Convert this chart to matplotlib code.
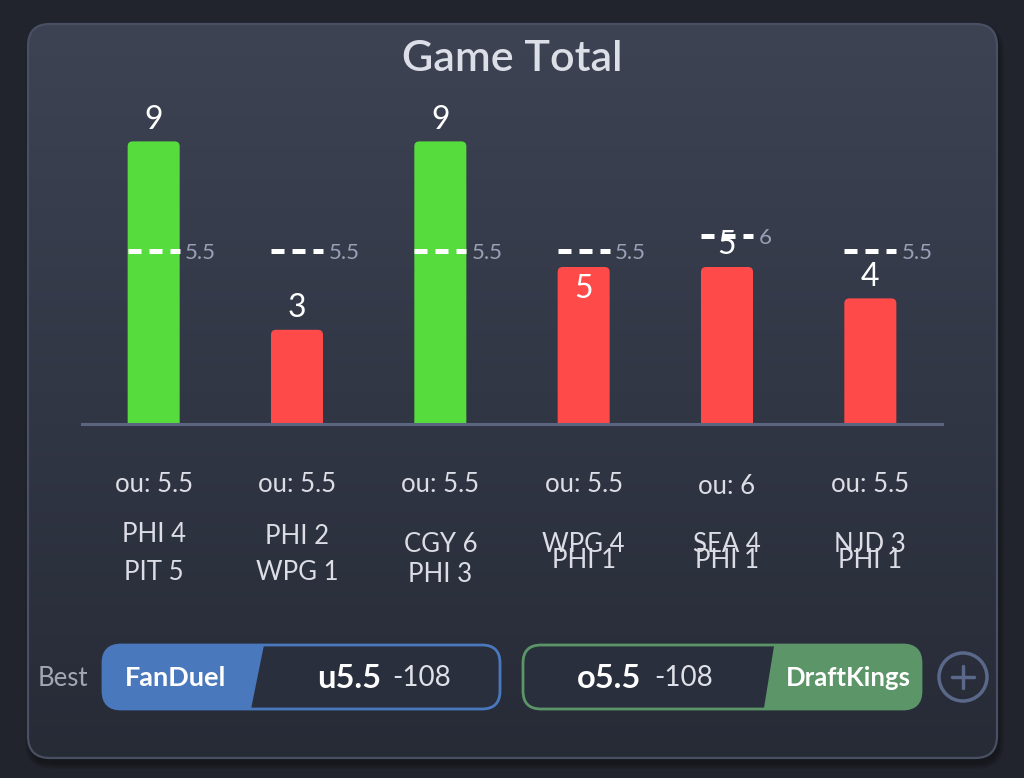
import numpy as np
import matplotlib
matplotlib.use("Agg")
import matplotlib.pyplot as plt
from matplotlib.patches import FancyBboxPatch, Polygon, Circle
from matplotlib.colors import LinearSegmentedColormap

plt.rcParams['font.family'] = ['Lato', 'DejaVu Sans']

# chart values
totals = [9, 3, 9, 5, 5, 4]
ou_lines = [5.5, 5.5, 5.5, 5.5, 6, 5.5]
ou_labels = ["ou: 5.5", "ou: 5.5", "ou: 5.5", "ou: 5.5", "ou: 6", "ou: 5.5"]
home_teams = ["PHI 4", "PHI 2", "CGY 6", "WPG 4", "SEA 4", "NJD 3"]
away_teams = ["PIT 5", "WPG 1", "PHI 3", "PHI 1", "PHI 1", "PHI 1"]
under_book, under_line, under_odds = "FanDuel", "u5.5", "-108"
over_book, over_line, over_odds = "DraftKings", "o5.5", "-108"

# styling
GREEN = '#56dc3d'
RED = '#ff4a4a'
label_inside = [False, False, False, True, False, False]
# the app draws the last three team pairs on top of each other, keep that
team_offsets_px = [(111, 149), (112, 149), (120, 150), (120, 137), (120, 137), (120, 137)]
ou_offsets_px = [60, 60, 60, 60, 63, 60]
PX = 0.72  # points per pixel at dpi 100

W, H = 1024, 778
fig = plt.figure(figsize=(W / 100, H / 100), dpi=100)
fig.patch.set_facecolor('#21242d')

bg = fig.add_axes([0, 0, 1, 1])
bg.set_xlim(0, W)
bg.set_ylim(H, 0)
bg.axis('off')

# card shadow
for k in range(6):
    bg.add_patch(FancyBboxPatch((28 - k + 2, 24 - k + 6), 969 + 2 * k, 734 + 2 * k,
                                boxstyle="round,pad=0,rounding_size=%d" % (22 + k),
                                fc='black', ec='none', alpha=0.06, zorder=0))

card = FancyBboxPatch((28, 24), 969, 734, boxstyle="round,pad=0,rounding_size=22",
                      fc='none', ec='#4a5063', lw=1.6, zorder=3)
bg.add_patch(card)
cmap = LinearSegmentedColormap.from_list('card', ['#3d4353', '#323746', '#272b36'])
grad = np.linspace(0, 1, 256).reshape(-1, 1)
im = bg.imshow(grad, extent=(28, 997, 758, 24), cmap=cmap, aspect='auto', zorder=1)
im.set_clip_path(card)

bg.text(512, 59, "Game Total", ha='center', va='center', fontsize=31,
        color='#dcdee8', fontweight='semibold', zorder=5)

# bar chart
ax = fig.add_axes([82 / W, (H - 424) / H, 860 / W, 314 / H])
ax.set_xlim(-0.5, 5.5)
ax.set_ylim(0, 10)
ax.axis('off')
ax.patch.set_alpha(0)

bw = 0.363
xs = np.arange(len(totals))
asp = (860 / 6) / 31.4
for i, v in enumerate(totals):
    color = GREEN if v > ou_lines[i] else RED
    ax.add_patch(FancyBboxPatch((xs[i] - bw / 2, -1), bw, v + 1,
                                boxstyle="round,pad=0,rounding_size=0.035",
                                mutation_aspect=asp, fc=color, ec='none', zorder=2))
    if label_inside[i]:
        off = -15.5
    else:
        off = 15.5
    ax.annotate(str(v), (xs[i], v), xytext=(0, off), textcoords='offset points',
                ha='center', va='center', fontsize=23, color='white', zorder=6,
                annotation_clip=False)

ax.axhline(0, color='#5c6580', lw=2.2, zorder=3, clip_on=False)

ax.hlines(ou_lines, xs - bw / 2, xs + bw / 2, colors='white', lw=3.6,
          linestyles=[(0, (2.6, 1.6))], zorder=5)
for i, line in enumerate(ou_lines):
    ax.annotate("%g" % line, (xs[i] + bw / 2, line), xytext=(4, -1.5),
                textcoords='offset points', ha='left', va='center',
                fontsize=16, color='#98a1b6', zorder=5)

for i in range(len(totals)):
    ax.annotate(ou_labels[i], (xs[i], 0), xytext=(0, -ou_offsets_px[i] * PX),
                textcoords='offset points', ha='center', va='center',
                fontsize=18.5, color='#dcdde5', annotation_clip=False)
    top, bot = team_offsets_px[i]
    ax.annotate(home_teams[i], (xs[i], 0), xytext=(0, -top * PX),
                textcoords='offset points', ha='center', va='center',
                fontsize=18.5, color='#dcdde5', annotation_clip=False)
    ax.annotate(away_teams[i], (xs[i], 0), xytext=(0, -bot * PX),
                textcoords='offset points', ha='center', va='center',
                fontsize=18.5, color='#dcdde5', annotation_clip=False)

# best odds row
bg.text(63, 678, "Best", ha='center', va='center', fontsize=18.5, color='#a3a7b3', zorder=5)

BLUE = '#4a78bd'
DKGREEN = '#5b9568'
DARK = '#2a2f3d'

p1 = FancyBboxPatch((103, 645), 397, 64, boxstyle="round,pad=0,rounding_size=18",
                    fc=DARK, ec='none', zorder=4)
bg.add_patch(p1)
blue = Polygon([(95, 640), (265, 640), (250, 714), (95, 714)], fc=BLUE, ec='none', zorder=5)
bg.add_patch(blue)
blue.set_clip_path(p1)
bg.add_patch(FancyBboxPatch((103, 645), 397, 64, boxstyle="round,pad=0,rounding_size=18",
                            fc='none', ec=BLUE, lw=2, zorder=6))
bg.text(176, 678, under_book, ha='center', va='center', fontsize=19.5,
        fontweight='bold', color='white', zorder=7)
bg.text(381, 678, under_line, ha='right', va='center', fontsize=23.5,
        fontweight='bold', color='white', zorder=7)
bg.text(392, 678, under_odds, ha='left', va='center', fontsize=20,
        color='#dfe1e8', zorder=7)

p2 = FancyBboxPatch((523, 645), 398, 64, boxstyle="round,pad=0,rounding_size=18",
                    fc=DARK, ec='none', zorder=4)
bg.add_patch(p2)
grn = Polygon([(775, 640), (930, 640), (930, 714), (763, 714)], fc=DKGREEN, ec='none', zorder=5)
bg.add_patch(grn)
grn.set_clip_path(p2)
bg.add_patch(FancyBboxPatch((523, 645), 398, 64, boxstyle="round,pad=0,rounding_size=18",
                            fc='none', ec=DKGREEN, lw=2, zorder=6))
bg.text(641, 678, over_line, ha='right', va='center', fontsize=23.5,
        fontweight='bold', color='white', zorder=7)
bg.text(654, 678, over_odds, ha='left', va='center', fontsize=20,
        color='#dfe1e8', zorder=7)
bg.text(848, 678, over_book, ha='center', va='center', fontsize=18.5,
        fontweight='bold', color='white', zorder=7)

bg.add_patch(Circle((963, 677), 24, fill=False, ec='#5a6889', lw=2.5, zorder=5))
bg.plot([952, 974], [677, 677], color='#5a6889', lw=2.5, zorder=5, solid_capstyle='round')
bg.plot([963, 963], [666, 688], color='#5a6889', lw=2.5, zorder=5, solid_capstyle='round')

fig.savefig("out.png", dpi=100, facecolor=fig.get_facecolor())
